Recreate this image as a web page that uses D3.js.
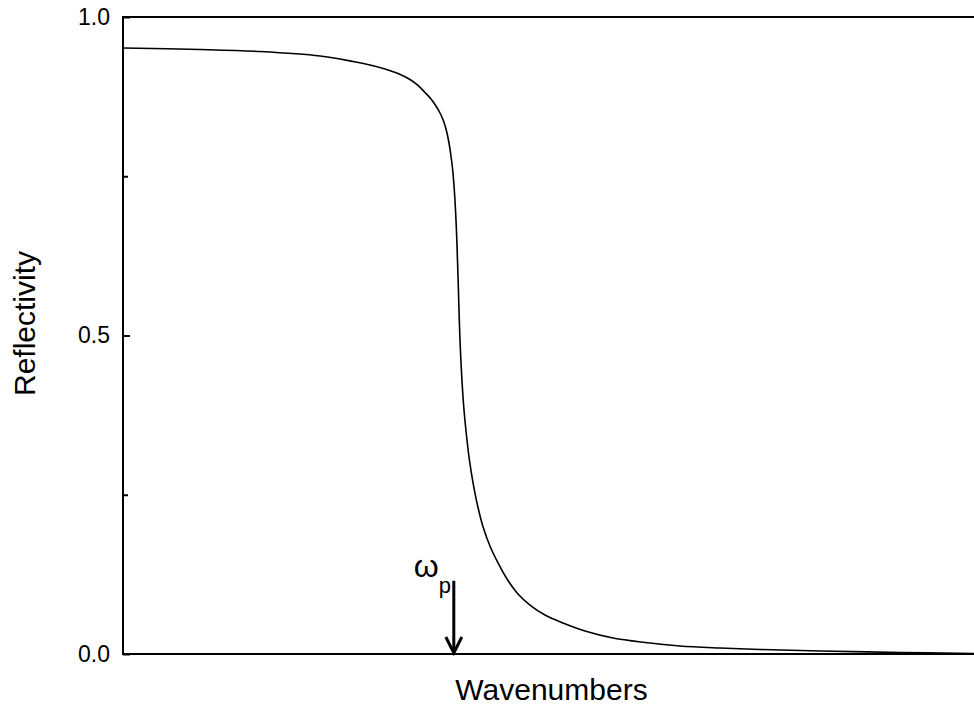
<!DOCTYPE html>
<html>
<head>
<meta charset="utf-8">
<script src="https://cdn.jsdelivr.net/npm/d3@7"></script>
<style>
  html, body { margin: 0; padding: 0; background: #fff; }
  svg { display: block; }
  text { font-family: Arial, "Liberation Sans", sans-serif; fill: #000; }
</style>
</head>
<body>
<svg id="chart" width="974" height="706"></svg>
<script>
// Reflectivity spectrum of a Drude metal (arbitrary wavenumber units)
const wavenumbers = [0, 89.8, 159.9, 229.9, 268.4, 288.2, 305.7, 320.9, 334.9, 344.2,
  352.4, 359.4, 365.2, 369.9, 374.0, 377.5, 380.4, 382.7, 384.7, 386.6,
  388.0, 389.3, 390.3, 391.4, 392.3, 393.7, 395.7, 397.9, 400.5, 404.2,
  408.5, 414.4, 420.2, 428.2, 437.6, 448.1, 460.9, 474.9, 492.4, 513.4,
  539.1, 571.8, 609.1, 649.9, 696.6, 743.3, 813.3, 906.7, 993.0, 1000];
const reflectivity = [0.9513, 0.9490, 0.9458, 0.9388, 0.9301, 0.9246, 0.9184, 0.9113, 0.9019, 0.8925,
  0.8815, 0.8713, 0.8603, 0.8493, 0.8367, 0.8210, 0.8022, 0.7818, 0.7598, 0.7284,
  0.6970, 0.6578, 0.6185, 0.5714, 0.5290, 0.4772, 0.4254, 0.3830, 0.3469, 0.3046,
  0.2684, 0.2292, 0.1994, 0.1695, 0.1429, 0.1177, 0.0942, 0.0769, 0.0612, 0.0487,
  0.0361, 0.0251, 0.0181, 0.0126, 0.0094, 0.0071, 0.0047, 0.0024, 0.0008, 0.0006];
const yMajorTicks = [0.0, 0.5, 1.0];
const yMinorTicks = [0.25, 0.75];
const plasmaFrequency = 386;
const arrowTop = 0.115;

const svg = d3.select("#chart");
const margin = { left: 123, top: 17, bottom: 654, right: 980 };

const x = d3.scaleLinear().domain([0, 1000]).range([margin.left, margin.right]);
const y = d3.scaleLinear().domain([0, 1]).range([margin.bottom, margin.top]);

// Frame: left, top and bottom borders
svg.append("path")
  .attr("d", `M${margin.right},${margin.top}H${margin.left}V${margin.bottom}H${margin.right}`)
  .attr("fill", "none").attr("stroke", "#000").attr("stroke-width", 2);

// Left axis with inward ticks
const yAxis = d3.axisLeft(y).tickValues(yMajorTicks).tickFormat(d3.format(".1f"))
  .tickSizeInner(-7).tickSizeOuter(0).tickPadding(13);
const gy = svg.append("g").attr("transform", `translate(${margin.left},0)`).call(yAxis);
gy.select(".domain").remove();
gy.selectAll(".tick line").attr("stroke", "#000").attr("stroke-width", 2);
gy.selectAll(".tick text").attr("font-size", 23).attr("x", -13);

const yMinor = d3.axisLeft(y).tickValues(yMinorTicks).tickFormat("").tickSizeInner(-5).tickSizeOuter(0);
const gm = svg.append("g").attr("transform", `translate(${margin.left},0)`).call(yMinor);
gm.select(".domain").remove();
gm.selectAll(".tick line").attr("stroke", "#000").attr("stroke-width", 2);

// Reflectivity curve (centripetal Catmull-Rom keeps the steep edge smooth)
const line = d3.line().x((d, i) => x(wavenumbers[i])).y(d => y(d)).curve(d3.curveCatmullRom.alpha(0.5));
svg.append("path")
  .datum(reflectivity)
  .attr("d", line)
  .attr("fill", "none").attr("stroke", "#000").attr("stroke-width", 1.6);

// Plasma frequency marker
const ax = x(plasmaFrequency);
svg.append("line")
  .attr("x1", ax).attr("x2", ax).attr("y1", y(arrowTop)).attr("y2", y(0) - 2)
  .attr("stroke", "#000").attr("stroke-width", 3);
svg.append("path")
  .attr("d", `M${ax - 8},${y(0) - 17}L${ax},${y(0) - 1}L${ax + 8},${y(0) - 17}`)
  .attr("fill", "none").attr("stroke", "#000").attr("stroke-width", 3);
const lbl = svg.append("text").attr("x", ax - 40).attr("y", y(arrowTop) - 4).attr("font-size", 32);
lbl.append("tspan").text("ω");
lbl.append("tspan").attr("dy", 16).attr("font-size", 22).text("p");

// Axis titles
svg.append("text")
  .attr("x", (margin.left + margin.right) / 2).attr("y", 700)
  .attr("text-anchor", "middle").attr("font-size", 30)
  .text("Wavenumbers");
svg.append("text")
  .attr("transform", `translate(35,${(margin.top + margin.bottom) / 2 - 12}) rotate(-90)`)
  .attr("text-anchor", "middle").attr("font-size", 30)
  .text("Reflectivity");
</script>
</body>
</html>
